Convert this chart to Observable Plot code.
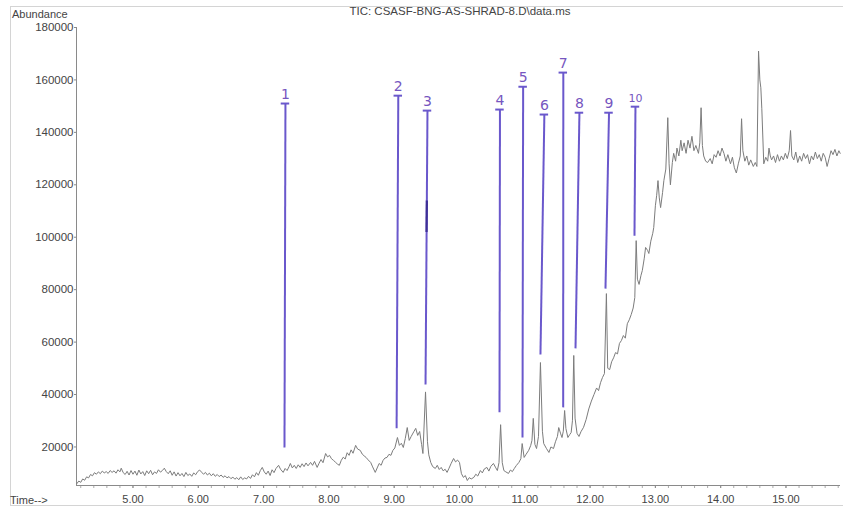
<!DOCTYPE html>
<html><head><meta charset="utf-8">
<script src="https://cdn.jsdelivr.net/npm/d3@7"></script>
<script src="https://cdn.jsdelivr.net/npm/@observablehq/plot@0.6"></script>
<style>
body{margin:0;background:#fff;font-family:"Liberation Sans",Arial,sans-serif;}
#wrap{position:relative;width:843px;height:507px;overflow:hidden;}
#frame{position:absolute;left:10px;top:6px;width:900px;height:498px;border:1px solid #d4d4d4;pointer-events:none;}
.lbl{position:absolute;color:#444;font-size:11px;line-height:13px;white-space:nowrap;}
#chart{position:absolute;left:0;top:0;}
</style></head><body>
<div id="wrap">
<div id="frame"></div>
<div id="chart"></div>
<div class="lbl" style="left:12px;top:8px">Abundance</div>
<div class="lbl" style="left:0;width:920px;text-align:center;top:5px;font-size:11.5px">TIC: CSASF-BNG-AS-SHRAD-8.D\data.ms</div>
<div class="lbl" style="left:10px;top:494px">Time--&gt;</div>
</div>
<script>
// Total ion chromatogram: [retention time (min), abundance]
const tic = [
[4.14,6000],[4.17,7000],[4.20,6500],[4.23,7800],[4.26,7300],[4.29,8600],[4.32,8200],[4.35,9500],[4.38,9000],[4.41,10200],
[4.44,9600],[4.47,10500],[4.50,9800],[4.53,10800],[4.56,10100],[4.59,10600],[4.62,9900],[4.65,11000],[4.68,10300],[4.71,10900],
[4.74,10000],[4.77,11300],[4.80,10500],[4.82,11900],[4.85,10200],[4.88,9500],[4.91,10700],[4.94,9300],[4.97,11000],[5.00,9600],
[5.03,10800],[5.06,9200],[5.09,11200],[5.12,9700],[5.15,10600],[5.18,9100],[5.21,10900],[5.24,9800],[5.27,11100],[5.30,9400],
[5.33,10500],[5.36,9900],[5.39,11300],[5.42,10400],[5.45,11000],[5.48,11900],[5.51,10600],[5.54,9800],[5.57,10900],[5.60,9200],
[5.63,10500],[5.66,8900],[5.69,10200],[5.72,9000],[5.75,9900],[5.78,8700],[5.81,10300],[5.84,9100],[5.87,9700],[5.90,8800],
[5.93,10100],[5.96,9400],[5.99,10600],[6.02,11200],[6.05,10400],[6.08,9600],[6.11,10300],[6.14,9300],[6.17,10000],[6.20,9000],
[6.23,9800],[6.26,8800],[6.29,9500],[6.32,8700],[6.35,9300],[6.38,8400],[6.41,9000],[6.44,8200],[6.47,8700],[6.50,7900],
[6.53,8500],[6.56,7700],[6.59,8300],[6.62,7500],[6.65,8600],[6.68,7600],[6.71,8200],[6.74,7800],[6.77,8800],[6.80,8000],
[6.83,9400],[6.86,8600],[6.89,10200],[6.92,9200],[6.95,11000],[6.98,12200],[7.01,10500],[7.04,9600],[7.07,10800],[7.10,9100],
[7.13,11300],[7.16,10200],[7.19,11800],[7.23,13000],[7.26,11500],[7.30,10300],[7.33,11800],[7.36,11000],[7.39,12500],[7.41,13700],
[7.44,12000],[7.47,13000],[7.50,11800],[7.53,13200],[7.56,12200],[7.59,13600],[7.62,12500],[7.65,13900],[7.68,12800],[7.72,14100],
[7.75,13000],[7.78,14500],[7.82,12200],[7.85,13800],[7.88,15200],[7.91,14000],[7.95,17500],[7.98,16200],[8.01,16800],[8.04,15500],
[8.07,14900],[8.10,14200],[8.13,13500],[8.16,13000],[8.19,14900],[8.22,16100],[8.25,15400],[8.28,17800],[8.31,16800],[8.34,18900],
[8.37,17600],[8.41,20600],[8.44,19200],[8.48,18700],[8.51,17300],[8.54,16600],[8.57,16000],[8.60,15100],[8.64,14100],[8.67,12400],
[8.71,10300],[8.74,12000],[8.77,13700],[8.80,13000],[8.83,14900],[8.86,15800],[8.89,16000],[8.92,17200],[8.95,16800],[8.98,18700],
[9.01,19600],[9.05,23600],[9.08,20600],[9.11,21400],[9.14,19800],[9.17,23200],[9.20,27400],[9.23,22500],[9.26,24000],[9.30,25800],
[9.33,27100],[9.36,24400],[9.39,25900],[9.42,21000],[9.44,17500],[9.48,41000],[9.51,22000],[9.53,17000],[9.56,14100],[9.59,12500],
[9.63,11800],[9.66,13000],[9.69,11400],[9.72,12200],[9.75,10900],[9.78,11500],[9.81,10300],[9.84,11900],[9.87,13600],[9.91,15600],
[9.94,14300],[9.97,15000],[10.00,14100],[10.03,9800],[10.06,8400],[10.09,9100],[10.12,7200],[10.15,8300],[10.18,7800],[10.22,8400],
[10.25,9600],[10.28,8900],[10.32,11000],[10.35,10100],[10.38,11600],[10.42,12200],[10.45,10800],[10.48,12600],[10.52,13700],[10.55,12300],
[10.58,11000],[10.605,14000],[10.63,28500],[10.655,14000],[10.68,11000],[10.71,10500],[10.75,9900],[10.78,11200],[10.81,10600],[10.84,11800],
[10.87,12900],[10.91,14100],[10.94,15500],[10.96,21300],[10.99,16000],[11.02,17200],[11.06,18700],[11.09,20500],[11.11,22500],[11.13,30900],
[11.155,21000],[11.18,19400],[11.21,24000],[11.24,52200],[11.27,26000],[11.29,21300],[11.33,19500],[11.37,17900],[11.40,20000],[11.44,19400],
[11.47,22000],[11.50,24000],[11.52,27400],[11.55,25000],[11.57,23600],[11.59,26000],[11.61,33900],[11.63,27000],[11.66,23600],[11.69,24800],
[11.71,25500],[11.73,30000],[11.75,54900],[11.77,31000],[11.80,25200],[11.83,24000],[11.86,25800],[11.90,27500],[11.94,30500],[11.98,34500],
[12.02,37500],[12.06,40000],[12.10,42500],[12.13,41500],[12.16,44500],[12.19,46500],[12.22,48000],[12.25,78500],[12.27,50000],[12.30,49500],
[12.33,52500],[12.36,54000],[12.39,56000],[12.42,55500],[12.45,59500],[12.48,60600],[12.51,62500],[12.54,61500],[12.57,67000],[12.60,68500],
[12.63,70500],[12.66,73000],[12.685,77000],[12.706,98700],[12.725,84000],[12.75,82000],[12.78,85500],[12.80,87300],[12.83,92000],[12.85,96100],
[12.88,95000],[12.90,93800],[12.93,98500],[12.96,101500],[12.975,103700],[13.00,112000],[13.02,116000],[13.04,121600],[13.06,115000],[13.08,111300],
[13.11,117000],[13.13,121600],[13.16,126000],[13.19,145600],[13.21,128000],[13.23,120000],[13.26,128500],[13.28,132000],[13.31,129000],[13.33,134000],
[13.36,131000],[13.39,137000],[13.41,133000],[13.44,136000],[13.47,132000],[13.50,137000],[13.53,134000],[13.56,138500],[13.59,133000],[13.62,135000],
[13.66,132000],[13.68,136000],[13.70,149400],[13.72,135000],[13.74,131000],[13.77,129000],[13.80,128500],[13.84,130000],[13.87,128000],[13.90,131500],
[13.93,130500],[13.96,133000],[13.99,131000],[14.02,134000],[14.05,132000],[14.08,129000],[14.11,131500],[14.15,128000],[14.18,130500],[14.21,126500],
[14.24,124500],[14.27,128000],[14.30,131000],[14.32,145200],[14.34,133000],[14.37,129000],[14.40,131000],[14.43,127500],[14.46,129500],[14.50,127000],
[14.53,128500],[14.555,127000],[14.58,171000],[14.60,160000],[14.615,157000],[14.63,149000],[14.66,128000],[14.69,130500],[14.72,129000],[14.74,134000],
[14.76,131000],[14.78,129500],[14.81,131000],[14.84,128500],[14.87,131500],[14.90,129000],[14.93,131000],[14.96,129500],[14.99,132000],[15.02,130000],
[15.05,133000],[15.07,140700],[15.09,131000],[15.12,129500],[15.15,132500],[15.18,128500],[15.21,131000],[15.24,129000],[15.27,132000],[15.30,130000],
[15.33,131500],[15.36,128000],[15.39,131000],[15.42,129500],[15.45,132500],[15.48,130000],[15.51,131500],[15.54,129000],[15.57,132000],[15.60,130500],
[15.63,127000],[15.66,130000],[15.69,133000],[15.72,131500],[15.75,133500],[15.78,131000],[15.81,133000],[15.83,132000]
];

// Hand-drawn peak markers
const peakLabels   = ["1","2","3","4","5","6","7","8","9","10"];
const markTimeTop  = [7.335, 9.063, 9.51, 10.62, 10.975, 11.30, 11.59, 11.837, 12.29, 12.695];
const markTimeBot  = [7.32, 9.037, 9.48, 10.613, 10.965, 11.24, 11.588, 11.777, 12.236, 12.68];
const markTop      = [151000, 154000, 148300, 148700, 157400, 146800, 162800, 147500, 147500, 149800];
const markBottom   = [19800, 27100, 43800, 33200, 23600, 55300, 35100, 57600, 80400, 100600];
// darker overdrawn stroke on marker 3
const mark3Dark    = [102000, 114000];

const yTicks = [20000, 40000, 60000, 80000, 100000, 120000, 140000, 160000, 180000];
const xTicks = [5, 6, 7, 8, 9, 10, 11, 12, 13, 14, 15];
const xMinor = d3.range(42, 159, 2).map(d => d / 10);

const xDomain = [4.135, 15.835];
const yDomain = [5300, 180000];

const marks = peakLabels.map((label, i) => ({
  label, tt: markTimeTop[i], tb: markTimeBot[i], vt: markTop[i], vb: markBottom[i]
}));

const purple = "#6a58cc";
const axisGray = "#8a8a8a";

const chart = Plot.plot({
  width: 843,
  height: 507,
  marginLeft: 76,
  marginRight: 3,
  marginTop: 27,
  marginBottom: 22,
  style: {fontFamily: "'Liberation Sans', Arial, sans-serif", color: "#444", background: "transparent"},
  x: {domain: xDomain, axis: null},
  y: {domain: yDomain, axis: null},
  marks: [
    Plot.axisY({ticks: yTicks, tickFormat: d => String(d), tickSize: 2, tickPadding: 1, fontSize: 11.5, stroke: axisGray}),
    Plot.axisX({ticks: xMinor, tickFormat: () => "", tickSize: 3, stroke: "#aaa"}),
    Plot.axisX({ticks: xTicks, tickFormat: d => d.toFixed(2), tickSize: 3, tickPadding: 7, fontSize: 11, stroke: axisGray}),
    Plot.ruleX([xDomain[0]], {stroke: axisGray}),
    Plot.ruleY([yDomain[0]], {stroke: axisGray}),
    Plot.line(tic, {x: d => d[0], y: d => d[1], stroke: "#7c7c7c", strokeWidth: 1}),
    Plot.link(marks, {x1: "tb", y1: "vb", x2: "tt", y2: "vt", stroke: purple, strokeWidth: 2}),
    Plot.link([mark3Dark], {x1: () => markTimeBot[2] + (markTimeTop[2]-markTimeBot[2]) * 0.52, y1: d => d[0],
                            x2: () => markTimeBot[2] + (markTimeTop[2]-markTimeBot[2]) * 0.68, y2: d => d[1],
                            stroke: "#3e2f96", strokeWidth: 2.2}),
    Plot.ruleY(marks, {y: "vt", x1: d => d.tt - 0.065, x2: d => d.tt + 0.065, stroke: purple, strokeWidth: 2}),
    Plot.text(marks, {x: "tt", y: "vt", text: "label", dy: -5, lineAnchor: "bottom",
                      fill: "#7656c0", fontSize: d => d.label === "10" ? 11 : 14, fontFamily: "'DejaVu Sans', sans-serif"})
  ]
});
document.getElementById("chart").appendChild(chart);
</script>
</body></html>
